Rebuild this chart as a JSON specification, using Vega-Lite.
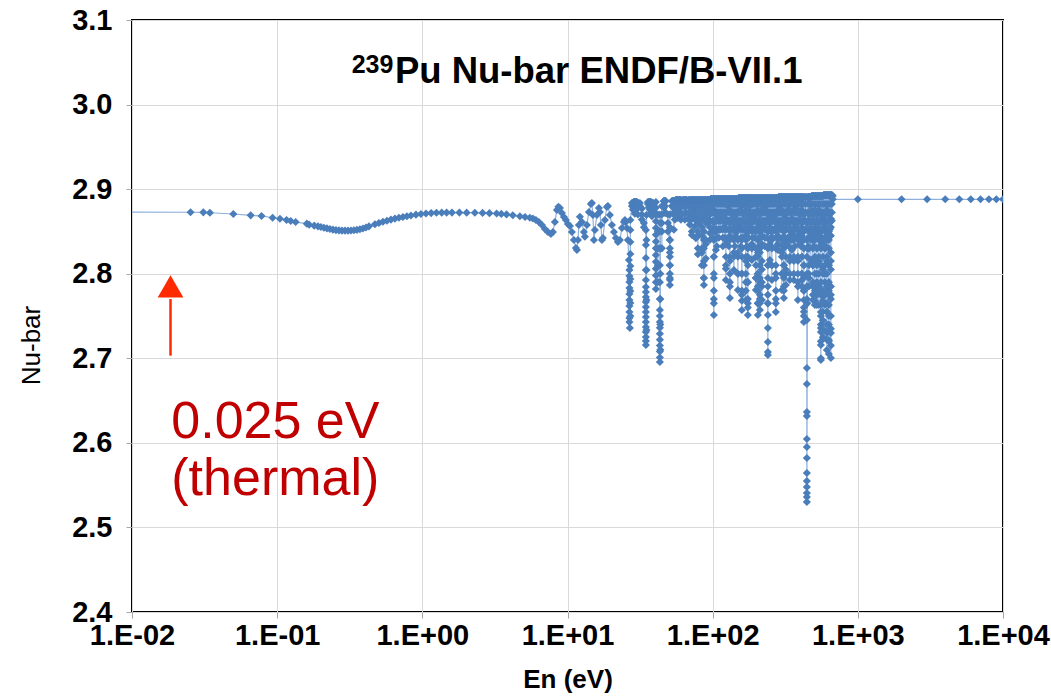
{
"$schema": "https://vega.github.io/schema/vega-lite/v6.json",
"width": 871, "height": 592,
"autosize": {"type": "none"},
"padding": {"left": 132, "top": 20, "right": 48, "bottom": 86},
"background": "white",
"config": {
 "view": {"stroke": "#000000", "strokeWidth": 2},
 "font": "Liberation Sans",
 "axis": {"gridColor": "#D9D9D9", "gridWidth": 1, "domain": false, "tickColor": "#A6A6A6", "tickSize": 6, "labelColor": "#000000", "titleColor": "#000000", "labelFont": "Liberation Sans", "titleFont": "Liberation Sans"},
 "axisY": {"titleFontSize": 26, "titleX": -101, "titleY": 325, "titleAlign": "center", "titleBaseline": "middle", "titleAngle": -90}
},
"datasets": {
 "nu": [
{"E":0.00001,"nu":2.8737},{"E":0.0253,"nu":2.8727},{"E":0.031,"nu":2.8726},{"E":0.0344,"nu":2.8721},{"E":0.0499,"nu":2.8706},{"E":0.0657,"nu":2.869},{"E":0.078,"nu":2.8683},{"E":0.093,"nu":2.8662},{"E":0.1045,"nu":2.865},{"E":0.116,"nu":2.8635},{"E":0.124,"nu":2.8623},{"E":0.134,"nu":2.8611},{"E":0.16,"nu":2.8592},{"E":0.166,"nu":2.858},{"E":0.18,"nu":2.8568},{"E":0.191,"nu":2.856},{"E":0.2002,"nu":2.8553},{"E":0.2101,"nu":2.8544},{"E":0.2203,"nu":2.8536},{"E":0.231,"nu":2.8528},{"E":0.2423,"nu":2.8521},{"E":0.2541,"nu":2.8516},{"E":0.2665,"nu":2.8512},{"E":0.2795,"nu":2.851},{"E":0.293,"nu":2.8509},{"E":0.3073,"nu":2.8509},{"E":0.3223,"nu":2.8511},{"E":0.338,"nu":2.8514},{"E":0.3545,"nu":2.8519},{"E":0.3717,"nu":2.8526},{"E":0.3898,"nu":2.8535},{"E":0.4089,"nu":2.8546},{"E":0.4287,"nu":2.856},{"E":0.4717,"nu":2.8585},{"E":0.5025,"nu":2.86},{"E":0.5355,"nu":2.8614},{"E":0.5705,"nu":2.8627},{"E":0.6077,"nu":2.864},{"E":0.6475,"nu":2.8652},{"E":0.6898,"nu":2.8662},{"E":0.7353,"nu":2.8671},{"E":0.7832,"nu":2.868},{"E":0.8346,"nu":2.8688},{"E":0.9035,"nu":2.8698},{"E":0.978,"nu":2.8706},{"E":1.059,"nu":2.8712},{"E":1.15,"nu":2.8717},{"E":1.25,"nu":2.8721},{"E":1.36,"nu":2.8722},{"E":1.47,"nu":2.8723},{"E":1.6,"nu":2.8723},{"E":1.8,"nu":2.8723},{"E":2.02,"nu":2.8722},{"E":2.3,"nu":2.8721},{"E":2.6,"nu":2.8719},{"E":2.9,"nu":2.8716},{"E":3.25,"nu":2.8712},{"E":3.5,"nu":2.8707},{"E":3.8,"nu":2.8701},{"E":4.2,"nu":2.8692},{"E":4.7,"nu":2.868},{"E":5.1,"nu":2.867},{"E":5.5,"nu":2.8662},
{"E":5.776,"nu":2.8653},{"E":6.058,"nu":2.8635},{"E":6.353,"nu":2.8612},{"E":6.663,"nu":2.8576},{"E":6.989,"nu":2.8529},{"E":7.328,"nu":2.8493},{"E":7.686,"nu":2.847},{"E":7.933,"nu":2.8493},{"E":8.187,"nu":2.8612},{"E":8.453,"nu":2.8753},{"E":8.656,"nu":2.8792},{"E":8.866,"nu":2.8777},{"E":9.151,"nu":2.8718},{"E":9.446,"nu":2.8671},{"E":9.75,"nu":2.8635},{"E":10.06,"nu":2.8588},{"E":10.39,"nu":2.8564},{"E":10.72,"nu":2.8493},{"E":11.07,"nu":2.8399},{"E":11.43,"nu":2.8304},{"E":11.61,"nu":2.828},{"E":11.8,"nu":2.8399},{"E":11.98,"nu":2.8576},{"E":12.17,"nu":2.8674},{"E":12.57,"nu":2.8612},{"E":12.97,"nu":2.8493},{"E":13.18,"nu":2.8438},{"E":13.6,"nu":2.8576},{"E":14.04,"nu":2.873},{"E":14.5,"nu":2.8824},{"E":14.72,"nu":2.8836},{"E":14.96,"nu":2.8694},{"E":15.2,"nu":2.8399},{"E":15.44,"nu":2.8517},{"E":15.94,"nu":2.8694},{"E":16.46,"nu":2.8777},{"E":16.72,"nu":2.873},{"E":16.98,"nu":2.8576},{"E":17.26,"nu":2.8399},{"E":17.53,"nu":2.8422},{"E":18.1,"nu":2.8635},{"E":18.68,"nu":2.8789},{"E":18.98,"nu":2.8801},{"E":19.59,"nu":2.8694},{"E":20.23,"nu":2.8576},{"E":20.88,"nu":2.8493},{"E":21.54,"nu":2.8422},{"E":22.24,"nu":2.8375},{"E":22.96,"nu":2.8399},{"E":23.7,"nu":2.8541},{"E":24.46,"nu":2.8612},{"E":24.86,"nu":2.8635},{"E":25.25,"nu":2.8612},{"E":25.66,"nu":2.8541},{"E":26.06,"nu":2.8399},{"E":26.48,"nu":2.8162},
{"E":26.7,"nu":2.8044},{"E":26.7,"nu":2.7973},{"E":26.7,"nu":2.7902},{"E":26.7,"nu":2.7831},{"E":26.7,"nu":2.776},{"E":26.7,"nu":2.7689},{"E":26.7,"nu":2.7618},{"E":26.7,"nu":2.7547},{"E":26.7,"nu":2.7476},{"E":26.7,"nu":2.7429},{"E":26.9,"nu":2.7358},{"E":27.1,"nu":2.75},{"E":27.1,"nu":2.7654},{"E":27.1,"nu":2.7796},{"E":27.1,"nu":2.7938},{"E":27.1,"nu":2.8091},{"E":27.1,"nu":2.8233},{"E":27.1,"nu":2.8375},{"E":27.1,"nu":2.8517},{"E":27.1,"nu":2.8635},
{"E":27.77,"nu":2.88},{"E":27.77,"nu":2.8836},
{"E":28.2,"nu":2.8836},{"E":28.2,"nu":2.876},{"E":28.2,"nu":2.8836},
{"E":28.67,"nu":2.8848},{"E":28.67,"nu":2.879},{"E":28.67,"nu":2.8848},
{"E":29.1,"nu":2.8848},{"E":29.1,"nu":2.871},{"E":29.1,"nu":2.8848},
{"E":29.59,"nu":2.8848},{"E":29.59,"nu":2.875},{"E":29.59,"nu":2.8848},
{"E":30.05,"nu":2.8848},{"E":30.05,"nu":2.878},{"E":30.05,"nu":2.8848},
{"E":30.54,"nu":2.8836},{"E":30.54,"nu":2.87},{"E":30.54,"nu":2.8836},
{"E":31.52,"nu":2.8836},{"E":31.52,"nu":2.88},
{"E":32.54,"nu":2.877},{"E":32.54,"nu":2.87},{"E":32.54,"nu":2.864},
{"E":33.59,"nu":2.86},{"E":33.59,"nu":2.855},
{"E":34.67,"nu":2.8517},{"E":34.67,"nu":2.834},{"E":34.67,"nu":2.8186},{"E":34.67,"nu":2.8044},{"E":34.67,"nu":2.7926},{"E":34.67,"nu":2.7843},{"E":34.67,"nu":2.7784},{"E":34.67,"nu":2.7725},{"E":34.67,"nu":2.7666},{"E":34.67,"nu":2.7607},{"E":34.67,"nu":2.7547},{"E":34.67,"nu":2.7488},{"E":34.67,"nu":2.7429},{"E":34.67,"nu":2.737},{"E":34.67,"nu":2.7311},{"E":34.67,"nu":2.7252},{"E":34.67,"nu":2.7204},{"E":34.67,"nu":2.7157},
{"E":35.0,"nu":2.7335},{"E":35.0,"nu":2.7689},{"E":35.0,"nu":2.8044},{"E":35.0,"nu":2.8399},{"E":35.0,"nu":2.8694},
{"E":35.79,"nu":2.8824},{"E":35.79,"nu":2.8848},
{"E":36.35,"nu":2.8848},{"E":36.35,"nu":2.8785},{"E":36.35,"nu":2.8848},
{"E":36.94,"nu":2.8848},{"E":36.94,"nu":2.876},{"E":36.94,"nu":2.8848},
{"E":37.5,"nu":2.8848},{"E":37.5,"nu":2.872},{"E":37.5,"nu":2.8848},
{"E":38.13,"nu":2.8836},{"E":38.13,"nu":2.868},{"E":38.13,"nu":2.8836},
{"E":38.75,"nu":2.8836},{"E":38.75,"nu":2.8775},{"E":38.75,"nu":2.8836},
{"E":39.36,"nu":2.8824},{"E":39.36,"nu":2.874},
{"E":40.63,"nu":2.8848},{"E":40.63,"nu":2.878},{"E":40.63,"nu":2.87},{"E":40.63,"nu":2.862},{"E":40.63,"nu":2.854},{"E":40.63,"nu":2.846},{"E":40.63,"nu":2.838},{"E":40.63,"nu":2.83},{"E":40.63,"nu":2.822},{"E":40.63,"nu":2.814},{"E":40.63,"nu":2.806},{"E":40.63,"nu":2.798},{"E":40.63,"nu":2.79},{"E":40.63,"nu":2.782},
{"E":41.94,"nu":2.79},{"E":41.94,"nu":2.81},{"E":41.94,"nu":2.83},{"E":41.94,"nu":2.85},{"E":41.94,"nu":2.87},
{"E":43.29,"nu":2.87},{"E":43.29,"nu":2.85},{"E":43.29,"nu":2.83},{"E":43.29,"nu":2.81},{"E":43.29,"nu":2.79},{"E":43.29,"nu":2.77},{"E":43.29,"nu":2.7571},{"E":43.29,"nu":2.75},{"E":43.29,"nu":2.743},{"E":43.29,"nu":2.736},{"E":43.29,"nu":2.729},{"E":43.29,"nu":2.722},{"E":43.29,"nu":2.715},{"E":43.29,"nu":2.708},{"E":43.29,"nu":2.701},{"E":43.29,"nu":2.6956},
{"E":43.6,"nu":2.71},{"E":43.6,"nu":2.74},{"E":43.6,"nu":2.77},{"E":43.6,"nu":2.8},{"E":43.6,"nu":2.83},{"E":43.6,"nu":2.86},
{"E":44.68,"nu":2.87},{"E":44.68,"nu":2.85},{"E":44.68,"nu":2.83},{"E":44.68,"nu":2.86},{"E":44.68,"nu":2.88},
{"E":46.12,"nu":2.886},{"E":46.12,"nu":2.878},{"E":46.12,"nu":2.886},
{"E":46.85,"nu":2.886},{"E":46.85,"nu":2.88},{"E":46.85,"nu":2.872},{"E":46.85,"nu":2.886},
{"E":47.61,"nu":2.886},{"E":47.61,"nu":2.872},
{"E":49.15,"nu":2.87},{"E":49.15,"nu":2.86},{"E":49.15,"nu":2.85},
{"E":50.73,"nu":2.84},{"E":50.73,"nu":2.83},{"E":50.73,"nu":2.82},{"E":50.73,"nu":2.81},{"E":50.73,"nu":2.8},{"E":50.73,"nu":2.793},{"E":50.73,"nu":2.7867},{"E":50.73,"nu":2.795},{"E":50.73,"nu":2.81},{"E":50.73,"nu":2.825},{"E":50.73,"nu":2.84},{"E":50.73,"nu":2.855},{"E":50.73,"nu":2.87},
{"E":52.36,"nu":2.88},{"E":52.36,"nu":2.886},
{"E":53.2,"nu":2.886},{"E":53.2,"nu":2.879},{"E":53.2,"nu":2.871},{"E":53.2,"nu":2.886},
{"E":54.05,"nu":2.886},{"E":54.05,"nu":2.852},{"E":54.05,"nu":2.886},
{"E":54.9,"nu":2.886},{"E":54.9,"nu":2.88},{"E":54.9,"nu":2.872},{"E":54.9,"nu":2.864},{"E":54.9,"nu":2.886},
{"E":55.8,"nu":2.8872},{"E":55.8,"nu":2.875},{"E":55.8,"nu":2.8872},
{"E":56.7,"nu":2.8872},{"E":56.7,"nu":2.88},{"E":56.7,"nu":2.871},{"E":56.7,"nu":2.8872},
{"E":57.59,"nu":2.8872},{"E":57.59,"nu":2.866},{"E":57.59,"nu":2.8872},
{"E":58.5,"nu":2.8872},{"E":58.5,"nu":2.88},{"E":58.5,"nu":2.872},{"E":58.5,"nu":2.8872},
{"E":59.45,"nu":2.8872},{"E":59.45,"nu":2.878},{"E":59.45,"nu":2.8872},
{"E":60.4,"nu":2.8872},{"E":60.4,"nu":2.88},{"E":60.4,"nu":2.872},{"E":60.4,"nu":2.864},{"E":60.4,"nu":2.8872},
{"E":61.37,"nu":2.886},{"E":61.37,"nu":2.87},{"E":61.37,"nu":2.886},
{"E":62.4,"nu":2.8872},{"E":62.4,"nu":2.88},{"E":62.4,"nu":2.8872},
{"E":63.35,"nu":2.8872},{"E":63.35,"nu":2.88},{"E":63.35,"nu":2.8872},
{"E":64.4,"nu":2.8872},{"E":64.4,"nu":2.88},{"E":64.4,"nu":2.872},{"E":64.4,"nu":2.864},{"E":64.4,"nu":2.8872},
{"E":65.38,"nu":2.8872},{"E":65.38,"nu":2.872},{"E":65.38,"nu":2.8872},
{"E":66.4,"nu":2.8872},{"E":66.4,"nu":2.88},{"E":66.4,"nu":2.8872},
{"E":67.49,"nu":2.886},{"E":67.49,"nu":2.865},{"E":67.49,"nu":2.886},
{"E":68.6,"nu":2.8872},{"E":68.6,"nu":2.88},{"E":68.6,"nu":2.872},{"E":68.6,"nu":2.8872},
{"E":69.66,"nu":2.8872},{"E":69.66,"nu":2.858},{"E":69.66,"nu":2.886},
{"E":70.8,"nu":2.8872},{"E":70.8,"nu":2.88},{"E":70.8,"nu":2.872},{"E":70.8,"nu":2.864},{"E":70.8,"nu":2.8872},
{"E":71.9,"nu":2.8872},{"E":71.9,"nu":2.868},{"E":71.9,"nu":2.85},{"E":71.9,"nu":2.8458},{"E":71.9,"nu":2.87},{"E":71.9,"nu":2.8872},
{"E":73.1,"nu":2.8872},{"E":73.1,"nu":2.88},{"E":73.1,"nu":2.8872},
{"E":74.22,"nu":2.8872},{"E":74.22,"nu":2.875},{"E":74.22,"nu":2.8872},
{"E":75.4,"nu":2.8872},{"E":75.4,"nu":2.88},{"E":75.4,"nu":2.872},{"E":75.4,"nu":2.864},{"E":75.4,"nu":2.856},{"E":75.4,"nu":2.8872},
{"E":76.62,"nu":2.8872},{"E":76.62,"nu":2.864},{"E":76.62,"nu":2.842},{"E":76.62,"nu":2.864},{"E":76.62,"nu":2.8872},
{"E":77.9,"nu":2.8872},{"E":77.9,"nu":2.88},{"E":77.9,"nu":2.872},{"E":77.9,"nu":2.8872},
{"E":79.09,"nu":2.8872},{"E":79.09,"nu":2.87},{"E":79.09,"nu":2.85},{"E":79.09,"nu":2.83},{"E":79.09,"nu":2.823},{"E":79.09,"nu":2.845},{"E":79.09,"nu":2.87},{"E":79.09,"nu":2.8872},
{"E":80.4,"nu":2.8872},{"E":80.4,"nu":2.88},{"E":80.4,"nu":2.86},{"E":80.4,"nu":2.8872},
{"E":81.63,"nu":2.8872},{"E":81.63,"nu":2.878},{"E":81.63,"nu":2.8872},
{"E":83.0,"nu":2.8872},{"E":83.0,"nu":2.88},{"E":83.0,"nu":2.872},{"E":83.0,"nu":2.864},{"E":83.0,"nu":2.8872},
{"E":84.27,"nu":2.8872},{"E":84.27,"nu":2.865},{"E":84.27,"nu":2.845},{"E":84.27,"nu":2.825},{"E":84.27,"nu":2.81},{"E":84.27,"nu":2.83},{"E":84.27,"nu":2.855},{"E":84.27,"nu":2.8872},
{"E":85.6,"nu":2.8872},{"E":85.6,"nu":2.88},{"E":85.6,"nu":2.872},{"E":85.6,"nu":2.8872},
{"E":86.98,"nu":2.8872},{"E":86.98,"nu":2.87},{"E":86.98,"nu":2.85},{"E":86.98,"nu":2.83},{"E":86.98,"nu":2.81},{"E":86.98,"nu":2.795},{"E":86.98,"nu":2.7867},{"E":86.98,"nu":2.795},{"E":86.98,"nu":2.815},{"E":86.98,"nu":2.84},{"E":86.98,"nu":2.865},{"E":86.98,"nu":2.8872},
{"E":88.4,"nu":2.8872},{"E":88.4,"nu":2.88},{"E":88.4,"nu":2.872},{"E":88.4,"nu":2.864},{"E":88.4,"nu":2.8872},
{"E":89.79,"nu":2.8872},{"E":89.79,"nu":2.86},{"E":89.79,"nu":2.835},{"E":89.79,"nu":2.818},{"E":89.79,"nu":2.84},{"E":89.79,"nu":2.865},{"E":89.79,"nu":2.8872},
{"E":91.2,"nu":2.8872},{"E":91.2,"nu":2.88},{"E":91.2,"nu":2.872},{"E":91.2,"nu":2.8872},
{"E":92.68,"nu":2.8872},{"E":92.68,"nu":2.875},{"E":92.68,"nu":2.86},{"E":92.68,"nu":2.875},{"E":92.68,"nu":2.8872},
{"E":94.2,"nu":2.8872},{"E":94.2,"nu":2.88},{"E":94.2,"nu":2.872},{"E":94.2,"nu":2.864},{"E":94.2,"nu":2.8872},
{"E":95.66,"nu":2.8872},{"E":95.66,"nu":2.87},{"E":95.66,"nu":2.848},{"E":95.66,"nu":2.8399},{"E":95.66,"nu":2.855},{"E":95.66,"nu":2.8872},
{"E":97.2,"nu":2.8884},{"E":97.2,"nu":2.88},{"E":97.2,"nu":2.872},{"E":97.2,"nu":2.8884},
{"E":98.74,"nu":2.8884},{"E":98.74,"nu":2.88},{"E":98.74,"nu":2.8884},
{"E":100.3,"nu":2.8884},{"E":100.3,"nu":2.8825},{"E":100.3,"nu":2.8725},{"E":100.3,"nu":2.8625},{"E":100.3,"nu":2.8525},{"E":100.3,"nu":2.8425},{"E":100.3,"nu":2.8884},
{"E":101.9,"nu":2.8884},{"E":101.9,"nu":2.86},{"E":101.9,"nu":2.84},{"E":101.9,"nu":2.82},{"E":101.9,"nu":2.8},{"E":101.9,"nu":2.78},{"E":101.9,"nu":2.765},{"E":101.9,"nu":2.7512},{"E":101.9,"nu":2.77},{"E":101.9,"nu":2.795},{"E":101.9,"nu":2.82},{"E":101.9,"nu":2.85},{"E":101.9,"nu":2.875},{"E":101.9,"nu":2.8884},
{"E":103.5,"nu":2.8884},{"E":103.5,"nu":2.8825},{"E":103.5,"nu":2.8725},{"E":103.5,"nu":2.8625},{"E":103.5,"nu":2.8525},{"E":103.5,"nu":2.8884},
{"E":105.2,"nu":2.8884},{"E":105.2,"nu":2.87},{"E":105.2,"nu":2.85},{"E":105.2,"nu":2.828},{"E":105.2,"nu":2.85},{"E":105.2,"nu":2.87},{"E":105.2,"nu":2.8884},
{"E":106.9,"nu":2.8884},{"E":106.9,"nu":2.8825},{"E":106.9,"nu":2.8725},{"E":106.9,"nu":2.8625},{"E":106.9,"nu":2.8525},{"E":106.9,"nu":2.8425},{"E":106.9,"nu":2.8325},{"E":106.9,"nu":2.8884},
{"E":108.6,"nu":2.8884},{"E":108.6,"nu":2.865},{"E":108.6,"nu":2.8884},
{"E":110.3,"nu":2.8884},{"E":110.3,"nu":2.8825},{"E":110.3,"nu":2.8725},{"E":110.3,"nu":2.8625},{"E":110.3,"nu":2.8525},{"E":110.3,"nu":2.8425},{"E":110.3,"nu":2.8884},
{"E":112.1,"nu":2.8884},{"E":112.1,"nu":2.868},{"E":112.1,"nu":2.852},{"E":112.1,"nu":2.87},{"E":112.1,"nu":2.8884},
{"E":113.9,"nu":2.8884},{"E":113.9,"nu":2.8825},{"E":113.9,"nu":2.8725},{"E":113.9,"nu":2.8625},{"E":113.9,"nu":2.8525},{"E":113.9,"nu":2.8884},
{"E":115.7,"nu":2.8884},{"E":115.7,"nu":2.87},{"E":115.7,"nu":2.8884},
{"E":117.5,"nu":2.8884},{"E":117.5,"nu":2.8825},{"E":117.5,"nu":2.8725},{"E":117.5,"nu":2.8625},{"E":117.5,"nu":2.8525},{"E":117.5,"nu":2.8425},{"E":117.5,"nu":2.8325},{"E":117.5,"nu":2.8884},
{"E":119.4,"nu":2.8884},{"E":119.4,"nu":2.87},{"E":119.4,"nu":2.855},{"E":119.4,"nu":2.87},{"E":119.4,"nu":2.8884},
{"E":121.3,"nu":2.8884},{"E":121.3,"nu":2.8825},{"E":121.3,"nu":2.8725},{"E":121.3,"nu":2.8625},{"E":121.3,"nu":2.8525},{"E":121.3,"nu":2.8425},{"E":121.3,"nu":2.8884},
{"E":123.3,"nu":2.8884},{"E":123.3,"nu":2.86},{"E":123.3,"nu":2.84},{"E":123.3,"nu":2.82},{"E":123.3,"nu":2.806},{"E":123.3,"nu":2.7926},{"E":123.3,"nu":2.81},{"E":123.3,"nu":2.835},{"E":123.3,"nu":2.865},{"E":123.3,"nu":2.8884},
{"E":125.3,"nu":2.8884},{"E":125.3,"nu":2.8825},{"E":125.3,"nu":2.8725},{"E":125.3,"nu":2.8625},{"E":125.3,"nu":2.8525},{"E":125.3,"nu":2.8884},
{"E":127.3,"nu":2.8884},{"E":127.3,"nu":2.88},{"E":127.3,"nu":2.8884},
{"E":129.3,"nu":2.8884},{"E":129.3,"nu":2.8825},{"E":129.3,"nu":2.8725},{"E":129.3,"nu":2.8625},{"E":129.3,"nu":2.8525},{"E":129.3,"nu":2.8425},{"E":129.3,"nu":2.8325},{"E":129.3,"nu":2.8884},
{"E":131.4,"nu":2.8884},{"E":131.4,"nu":2.86},{"E":131.4,"nu":2.84},{"E":131.4,"nu":2.82},{"E":131.4,"nu":2.8},{"E":131.4,"nu":2.785},{"E":131.4,"nu":2.7713},{"E":131.4,"nu":2.79},{"E":131.4,"nu":2.815},{"E":131.4,"nu":2.845},{"E":131.4,"nu":2.875},{"E":131.4,"nu":2.8884},
{"E":133.5,"nu":2.8884},{"E":133.5,"nu":2.8825},{"E":133.5,"nu":2.8725},{"E":133.5,"nu":2.8625},{"E":133.5,"nu":2.8525},{"E":133.5,"nu":2.8425},{"E":133.5,"nu":2.8884},
{"E":135.6,"nu":2.8884},{"E":135.6,"nu":2.865},{"E":135.6,"nu":2.8884},
{"E":137.8,"nu":2.8884},{"E":137.8,"nu":2.8825},{"E":137.8,"nu":2.8725},{"E":137.8,"nu":2.8625},{"E":137.8,"nu":2.8525},{"E":137.8,"nu":2.8884},
{"E":140.0,"nu":2.8884},{"E":140.0,"nu":2.86},{"E":140.0,"nu":2.84},{"E":140.0,"nu":2.82},{"E":140.0,"nu":2.8044},{"E":140.0,"nu":2.825},{"E":140.0,"nu":2.855},{"E":140.0,"nu":2.8884},
{"E":142.2,"nu":2.8884},{"E":142.2,"nu":2.8825},{"E":142.2,"nu":2.8725},{"E":142.2,"nu":2.8625},{"E":142.2,"nu":2.8525},{"E":142.2,"nu":2.8425},{"E":142.2,"nu":2.8325},{"E":142.2,"nu":2.8884},
{"E":144.5,"nu":2.8884},{"E":144.5,"nu":2.87},{"E":144.5,"nu":2.848},{"E":144.5,"nu":2.87},{"E":144.5,"nu":2.8884},
{"E":146.8,"nu":2.8884},{"E":146.8,"nu":2.8825},{"E":146.8,"nu":2.8725},{"E":146.8,"nu":2.8625},{"E":146.8,"nu":2.8525},{"E":146.8,"nu":2.8425},{"E":146.8,"nu":2.8884},
{"E":149.2,"nu":2.8884},{"E":149.2,"nu":2.86},{"E":149.2,"nu":2.84},{"E":149.2,"nu":2.82},{"E":149.2,"nu":2.8},{"E":149.2,"nu":2.7807},{"E":149.2,"nu":2.8},{"E":149.2,"nu":2.825},{"E":149.2,"nu":2.855},{"E":149.2,"nu":2.8884},
{"E":151.5,"nu":2.8895},{"E":151.5,"nu":2.8825},{"E":151.5,"nu":2.8725},{"E":151.5,"nu":2.8625},{"E":151.5,"nu":2.8525},{"E":151.5,"nu":2.8895},
{"E":153.9,"nu":2.8895},{"E":153.9,"nu":2.875},{"E":153.9,"nu":2.86},{"E":153.9,"nu":2.875},{"E":153.9,"nu":2.8895},
{"E":156.4,"nu":2.8895},{"E":156.4,"nu":2.8825},{"E":156.4,"nu":2.8725},{"E":156.4,"nu":2.8625},{"E":156.4,"nu":2.8525},{"E":156.4,"nu":2.8425},{"E":156.4,"nu":2.8325},{"E":156.4,"nu":2.8895},
{"E":158.9,"nu":2.8895},{"E":158.9,"nu":2.88},{"E":158.9,"nu":2.86},{"E":158.9,"nu":2.84},{"E":158.9,"nu":2.82},{"E":158.9,"nu":2.8},{"E":158.9,"nu":2.78},{"E":158.9,"nu":2.768},{"E":158.9,"nu":2.7571},{"E":158.9,"nu":2.775},{"E":158.9,"nu":2.8},{"E":158.9,"nu":2.83},{"E":158.9,"nu":2.86},{"E":158.9,"nu":2.8895},
{"E":161.4,"nu":2.8895},{"E":161.4,"nu":2.8825},{"E":161.4,"nu":2.8725},{"E":161.4,"nu":2.8625},{"E":161.4,"nu":2.8525},{"E":161.4,"nu":2.8425},{"E":161.4,"nu":2.8895},
{"E":164.0,"nu":2.8895},{"E":164.0,"nu":2.87},{"E":164.0,"nu":2.852},{"E":164.0,"nu":2.87},{"E":164.0,"nu":2.8895},
{"E":166.6,"nu":2.8895},{"E":166.6,"nu":2.8825},{"E":166.6,"nu":2.8725},{"E":166.6,"nu":2.8625},{"E":166.6,"nu":2.8525},{"E":166.6,"nu":2.8895},
{"E":169.3,"nu":2.8895},{"E":169.3,"nu":2.86},{"E":169.3,"nu":2.84},{"E":169.3,"nu":2.82},{"E":169.3,"nu":2.8},{"E":169.3,"nu":2.78},{"E":169.3,"nu":2.7689},{"E":169.3,"nu":2.79},{"E":169.3,"nu":2.815},{"E":169.3,"nu":2.845},{"E":169.3,"nu":2.875},{"E":169.3,"nu":2.8895},
{"E":172.0,"nu":2.8895},{"E":172.0,"nu":2.8825},{"E":172.0,"nu":2.8725},{"E":172.0,"nu":2.8625},{"E":172.0,"nu":2.8525},{"E":172.0,"nu":2.8425},{"E":172.0,"nu":2.8325},{"E":172.0,"nu":2.8895},
{"E":174.7,"nu":2.8895},{"E":174.7,"nu":2.87},{"E":174.7,"nu":2.85},{"E":174.7,"nu":2.83},{"E":174.7,"nu":2.81},{"E":174.7,"nu":2.79},{"E":174.7,"nu":2.77},{"E":174.7,"nu":2.76},{"E":174.7,"nu":2.7512},{"E":174.7,"nu":2.765},{"E":174.7,"nu":2.79},{"E":174.7,"nu":2.82},{"E":174.7,"nu":2.85},{"E":174.7,"nu":2.8895},
{"E":177.5,"nu":2.8895},{"E":177.5,"nu":2.8825},{"E":177.5,"nu":2.8725},{"E":177.5,"nu":2.8625},{"E":177.5,"nu":2.8525},{"E":177.5,"nu":2.8425},{"E":177.5,"nu":2.8895},
{"E":180.4,"nu":2.8895},{"E":180.4,"nu":2.87},{"E":180.4,"nu":2.855},{"E":180.4,"nu":2.88},{"E":180.4,"nu":2.8895},
{"E":183.3,"nu":2.8895},{"E":183.3,"nu":2.8825},{"E":183.3,"nu":2.8725},{"E":183.3,"nu":2.8625},{"E":183.3,"nu":2.8525},{"E":183.3,"nu":2.8895},
{"E":186.2,"nu":2.8895},{"E":186.2,"nu":2.87},{"E":186.2,"nu":2.85},{"E":186.2,"nu":2.83},{"E":186.2,"nu":2.8162},{"E":186.2,"nu":2.835},{"E":186.2,"nu":2.86},{"E":186.2,"nu":2.8895},
{"E":189.2,"nu":2.8895},{"E":189.2,"nu":2.8825},{"E":189.2,"nu":2.8725},{"E":189.2,"nu":2.8625},{"E":189.2,"nu":2.8525},{"E":189.2,"nu":2.8425},{"E":189.2,"nu":2.8325},{"E":189.2,"nu":2.8895},
{"E":192.2,"nu":2.8895},{"E":192.2,"nu":2.865},{"E":192.2,"nu":2.8895},
{"E":195.3,"nu":2.8895},{"E":195.3,"nu":2.8825},{"E":195.3,"nu":2.8725},{"E":195.3,"nu":2.8625},{"E":195.3,"nu":2.8525},{"E":195.3,"nu":2.8425},{"E":195.3,"nu":2.8895},
{"E":198.4,"nu":2.8895},{"E":198.4,"nu":2.87},{"E":198.4,"nu":2.85},{"E":198.4,"nu":2.83},{"E":198.4,"nu":2.81},{"E":198.4,"nu":2.795},{"E":198.4,"nu":2.7807},{"E":198.4,"nu":2.795},{"E":198.4,"nu":2.82},{"E":198.4,"nu":2.85},{"E":198.4,"nu":2.8895},
{"E":201.6,"nu":2.8895},{"E":201.6,"nu":2.8825},{"E":201.6,"nu":2.8725},{"E":201.6,"nu":2.8625},{"E":201.6,"nu":2.8525},{"E":201.6,"nu":2.8895},
{"E":204.8,"nu":2.8895},{"E":204.8,"nu":2.86},{"E":204.8,"nu":2.84},{"E":204.8,"nu":2.82},{"E":204.8,"nu":2.8},{"E":204.8,"nu":2.785},{"E":204.8,"nu":2.765},{"E":204.8,"nu":2.7512},{"E":204.8,"nu":2.765},{"E":204.8,"nu":2.78},{"E":204.8,"nu":2.8},{"E":204.8,"nu":2.825},{"E":204.8,"nu":2.855},{"E":204.8,"nu":2.875},{"E":204.8,"nu":2.8895},
{"E":208.1,"nu":2.8895},{"E":208.1,"nu":2.8825},{"E":208.1,"nu":2.8725},{"E":208.1,"nu":2.8625},{"E":208.1,"nu":2.8525},{"E":208.1,"nu":2.8425},{"E":208.1,"nu":2.8325},{"E":208.1,"nu":2.8895},
{"E":211.4,"nu":2.8895},{"E":211.4,"nu":2.87},{"E":211.4,"nu":2.85},{"E":211.4,"nu":2.83},{"E":211.4,"nu":2.81},{"E":211.4,"nu":2.79},{"E":211.4,"nu":2.775},{"E":211.4,"nu":2.765},{"E":211.4,"nu":2.7571},{"E":211.4,"nu":2.77},{"E":211.4,"nu":2.795},{"E":211.4,"nu":2.825},{"E":211.4,"nu":2.855},{"E":211.4,"nu":2.8895},
{"E":214.8,"nu":2.8895},{"E":214.8,"nu":2.8825},{"E":214.8,"nu":2.8725},{"E":214.8,"nu":2.8625},{"E":214.8,"nu":2.8525},{"E":214.8,"nu":2.8425},{"E":214.8,"nu":2.8895},
{"E":218.2,"nu":2.8895},{"E":218.2,"nu":2.875},{"E":218.2,"nu":2.855},{"E":218.2,"nu":2.835},{"E":218.2,"nu":2.805},{"E":218.2,"nu":2.785},{"E":218.2,"nu":2.7689},{"E":218.2,"nu":2.79},{"E":218.2,"nu":2.815},{"E":218.2,"nu":2.845},{"E":218.2,"nu":2.86},{"E":218.2,"nu":2.8895},
{"E":221.7,"nu":2.8895},{"E":221.7,"nu":2.8825},{"E":221.7,"nu":2.8725},{"E":221.7,"nu":2.8625},{"E":221.7,"nu":2.8525},{"E":221.7,"nu":2.8895},
{"E":225.2,"nu":2.8895},{"E":225.2,"nu":2.875},{"E":225.2,"nu":2.86},{"E":225.2,"nu":2.875},{"E":225.2,"nu":2.8895},
{"E":228.8,"nu":2.8895},{"E":228.8,"nu":2.8825},{"E":228.8,"nu":2.8725},{"E":228.8,"nu":2.8625},{"E":228.8,"nu":2.8525},{"E":228.8,"nu":2.8425},{"E":228.8,"nu":2.8325},{"E":228.8,"nu":2.8895},
{"E":232.5,"nu":2.8895},{"E":232.5,"nu":2.88},{"E":232.5,"nu":2.86},{"E":232.5,"nu":2.875},{"E":232.5,"nu":2.8895},
{"E":236.2,"nu":2.8895},{"E":236.2,"nu":2.8825},{"E":236.2,"nu":2.8725},{"E":236.2,"nu":2.8625},{"E":236.2,"nu":2.8525},{"E":236.2,"nu":2.8425},{"E":236.2,"nu":2.8895},
{"E":240.0,"nu":2.8895},{"E":240.0,"nu":2.87},{"E":240.0,"nu":2.85},{"E":240.0,"nu":2.83},{"E":240.0,"nu":2.81},{"E":240.0,"nu":2.795},{"E":240.0,"nu":2.785},{"E":240.0,"nu":2.775},{"E":240.0,"nu":2.765},{"E":240.0,"nu":2.7512},{"E":240.0,"nu":2.7358},{"E":240.0,"nu":2.7193},{"E":240.0,"nu":2.7074},{"E":240.0,"nu":2.7039},{"E":240.0,"nu":2.765},{"E":240.0,"nu":2.81},{"E":240.0,"nu":2.85},{"E":240.0,"nu":2.8895},
{"E":243.8,"nu":2.8895},{"E":243.8,"nu":2.8825},{"E":243.8,"nu":2.8725},{"E":243.8,"nu":2.8625},{"E":243.8,"nu":2.8525},{"E":243.8,"nu":2.8895},
{"E":247.7,"nu":2.8895},{"E":247.7,"nu":2.86},{"E":247.7,"nu":2.84},{"E":247.7,"nu":2.8162},{"E":247.7,"nu":2.835},{"E":247.7,"nu":2.865},{"E":247.7,"nu":2.8895},
{"E":251.7,"nu":2.8895},{"E":251.7,"nu":2.8825},{"E":251.7,"nu":2.8725},{"E":251.7,"nu":2.8625},{"E":251.7,"nu":2.8525},{"E":251.7,"nu":2.8425},{"E":251.7,"nu":2.8325},{"E":251.7,"nu":2.8895},
{"E":255.7,"nu":2.8895},{"E":255.7,"nu":2.87},{"E":255.7,"nu":2.85},{"E":255.7,"nu":2.83},{"E":255.7,"nu":2.81},{"E":255.7,"nu":2.7926},{"E":255.7,"nu":2.81},{"E":255.7,"nu":2.84},{"E":255.7,"nu":2.87},{"E":255.7,"nu":2.8895},
{"E":259.8,"nu":2.8895},{"E":259.8,"nu":2.8825},{"E":259.8,"nu":2.8725},{"E":259.8,"nu":2.8625},{"E":259.8,"nu":2.8525},{"E":259.8,"nu":2.8425},{"E":259.8,"nu":2.8895},
{"E":263.9,"nu":2.8895},{"E":263.9,"nu":2.865},{"E":263.9,"nu":2.8895},
{"E":268.1,"nu":2.8895},{"E":268.1,"nu":2.8825},{"E":268.1,"nu":2.8725},{"E":268.1,"nu":2.8625},{"E":268.1,"nu":2.8525},{"E":268.1,"nu":2.8895},
{"E":272.4,"nu":2.8895},{"E":272.4,"nu":2.87},{"E":272.4,"nu":2.85},{"E":272.4,"nu":2.83},{"E":272.4,"nu":2.81},{"E":272.4,"nu":2.795},{"E":272.4,"nu":2.78},{"E":272.4,"nu":2.765},{"E":272.4,"nu":2.7547},{"E":272.4,"nu":2.77},{"E":272.4,"nu":2.8},{"E":272.4,"nu":2.83},{"E":272.4,"nu":2.86},{"E":272.4,"nu":2.8895},
{"E":276.8,"nu":2.8895},{"E":276.8,"nu":2.8825},{"E":276.8,"nu":2.8725},{"E":276.8,"nu":2.8625},{"E":276.8,"nu":2.8525},{"E":276.8,"nu":2.8425},{"E":276.8,"nu":2.8325},{"E":276.8,"nu":2.8895},
{"E":281.2,"nu":2.8895},{"E":281.2,"nu":2.875},{"E":281.2,"nu":2.855},{"E":281.2,"nu":2.835},{"E":281.2,"nu":2.828},{"E":281.2,"nu":2.845},{"E":281.2,"nu":2.8895},
{"E":285.7,"nu":2.8907},{"E":285.7,"nu":2.8825},{"E":285.7,"nu":2.8725},{"E":285.7,"nu":2.8625},{"E":285.7,"nu":2.8525},{"E":285.7,"nu":2.8425},{"E":285.7,"nu":2.8907},
{"E":290.3,"nu":2.8907},{"E":290.3,"nu":2.875},{"E":290.3,"nu":2.86},{"E":290.3,"nu":2.875},{"E":290.3,"nu":2.8907},
{"E":295.0,"nu":2.8907},{"E":295.0,"nu":2.8825},{"E":295.0,"nu":2.8725},{"E":295.0,"nu":2.8625},{"E":295.0,"nu":2.8525},{"E":295.0,"nu":2.8907},
{"E":299.6,"nu":2.8907},{"E":299.6,"nu":2.86},{"E":299.6,"nu":2.84},{"E":299.6,"nu":2.82},{"E":299.6,"nu":2.8},{"E":299.6,"nu":2.7807},{"E":299.6,"nu":2.8},{"E":299.6,"nu":2.825},{"E":299.6,"nu":2.855},{"E":299.6,"nu":2.875},{"E":299.6,"nu":2.8907},
{"E":304.4,"nu":2.8907},{"E":304.4,"nu":2.8825},{"E":304.4,"nu":2.8725},{"E":304.4,"nu":2.8625},{"E":304.4,"nu":2.8525},{"E":304.4,"nu":2.8425},{"E":304.4,"nu":2.8325},{"E":304.4,"nu":2.8907},
{"E":309.3,"nu":2.8907},{"E":309.3,"nu":2.87},{"E":309.3,"nu":2.85},{"E":309.3,"nu":2.83},{"E":309.3,"nu":2.81},{"E":309.3,"nu":2.795},{"E":309.3,"nu":2.78},{"E":309.3,"nu":2.7713},{"E":309.3,"nu":2.785},{"E":309.3,"nu":2.81},{"E":309.3,"nu":2.84},{"E":309.3,"nu":2.87},{"E":309.3,"nu":2.8907},
{"E":314.3,"nu":2.8907},{"E":314.3,"nu":2.8825},{"E":314.3,"nu":2.8725},{"E":314.3,"nu":2.8625},{"E":314.3,"nu":2.8525},{"E":314.3,"nu":2.8425},{"E":314.3,"nu":2.8907},
{"E":319.3,"nu":2.8907},{"E":319.3,"nu":2.86},{"E":319.3,"nu":2.84},{"E":319.3,"nu":2.82},{"E":319.3,"nu":2.8},{"E":319.3,"nu":2.7867},{"E":319.3,"nu":2.805},{"E":319.3,"nu":2.835},{"E":319.3,"nu":2.865},{"E":319.3,"nu":2.8907},
{"E":324.4,"nu":2.8907},{"E":324.4,"nu":2.8825},{"E":324.4,"nu":2.8725},{"E":324.4,"nu":2.8625},{"E":324.4,"nu":2.8525},{"E":324.4,"nu":2.8907},
{"E":329.6,"nu":2.8907},{"E":329.6,"nu":2.875},{"E":329.6,"nu":2.86},{"E":329.6,"nu":2.875},{"E":329.6,"nu":2.8907},
{"E":334.9,"nu":2.8907},{"E":334.9,"nu":2.8825},{"E":334.9,"nu":2.8725},{"E":334.9,"nu":2.8625},{"E":334.9,"nu":2.8525},{"E":334.9,"nu":2.8425},{"E":334.9,"nu":2.8325},{"E":334.9,"nu":2.8907},
{"E":340.2,"nu":2.8907},{"E":340.2,"nu":2.86},{"E":340.2,"nu":2.84},{"E":340.2,"nu":2.82},{"E":340.2,"nu":2.8},{"E":340.2,"nu":2.7926},{"E":340.2,"nu":2.815},{"E":340.2,"nu":2.845},{"E":340.2,"nu":2.875},{"E":340.2,"nu":2.8907},
{"E":345.7,"nu":2.8907},{"E":345.7,"nu":2.8825},{"E":345.7,"nu":2.8725},{"E":345.7,"nu":2.8625},{"E":345.7,"nu":2.8525},{"E":345.7,"nu":2.8425},{"E":345.7,"nu":2.8907},
{"E":351.2,"nu":2.8907},{"E":351.2,"nu":2.865},{"E":351.2,"nu":2.84},{"E":351.2,"nu":2.828},{"E":351.2,"nu":2.85},{"E":351.2,"nu":2.8907},
{"E":356.8,"nu":2.8907},{"E":356.8,"nu":2.8825},{"E":356.8,"nu":2.8725},{"E":356.8,"nu":2.8625},{"E":356.8,"nu":2.8525},{"E":356.8,"nu":2.8907},
{"E":362.5,"nu":2.8907},{"E":362.5,"nu":2.86},{"E":362.5,"nu":2.84},{"E":362.5,"nu":2.82},{"E":362.5,"nu":2.8},{"E":362.5,"nu":2.7926},{"E":362.5,"nu":2.815},{"E":362.5,"nu":2.845},{"E":362.5,"nu":2.875},{"E":362.5,"nu":2.8907},
{"E":368.3,"nu":2.8907},{"E":368.3,"nu":2.8825},{"E":368.3,"nu":2.8725},{"E":368.3,"nu":2.8625},{"E":368.3,"nu":2.8525},{"E":368.3,"nu":2.8425},{"E":368.3,"nu":2.8325},{"E":368.3,"nu":2.8907},
{"E":374.2,"nu":2.8907},{"E":374.2,"nu":2.875},{"E":374.2,"nu":2.86},{"E":374.2,"nu":2.875},{"E":374.2,"nu":2.8907},
{"E":380.2,"nu":2.8907},{"E":380.2,"nu":2.8825},{"E":380.2,"nu":2.8725},{"E":380.2,"nu":2.8625},{"E":380.2,"nu":2.8525},{"E":380.2,"nu":2.8425},{"E":380.2,"nu":2.8907},
{"E":386.3,"nu":2.8907},{"E":386.3,"nu":2.86},{"E":386.3,"nu":2.84},{"E":386.3,"nu":2.82},{"E":386.3,"nu":2.8},{"E":386.3,"nu":2.785},{"E":386.3,"nu":2.7689},{"E":386.3,"nu":2.79},{"E":386.3,"nu":2.815},{"E":386.3,"nu":2.845},{"E":386.3,"nu":2.875},{"E":386.3,"nu":2.8907},
{"E":392.5,"nu":2.8907},{"E":392.5,"nu":2.8825},{"E":392.5,"nu":2.8725},{"E":392.5,"nu":2.8625},{"E":392.5,"nu":2.8525},{"E":392.5,"nu":2.8907},
{"E":398.7,"nu":2.8907},{"E":398.7,"nu":2.87},{"E":398.7,"nu":2.85},{"E":398.7,"nu":2.835},{"E":398.7,"nu":2.85},{"E":398.7,"nu":2.8907},
{"E":405.1,"nu":2.8907},{"E":405.1,"nu":2.8825},{"E":405.1,"nu":2.8725},{"E":405.1,"nu":2.8625},{"E":405.1,"nu":2.8525},{"E":405.1,"nu":2.8425},{"E":405.1,"nu":2.8325},{"E":405.1,"nu":2.8907},
{"E":411.6,"nu":2.8907},{"E":411.6,"nu":2.86},{"E":411.6,"nu":2.84},{"E":411.6,"nu":2.82},{"E":411.6,"nu":2.8},{"E":411.6,"nu":2.7926},{"E":411.6,"nu":2.785},{"E":411.6,"nu":2.8},{"E":411.6,"nu":2.82},{"E":411.6,"nu":2.845},{"E":411.6,"nu":2.875},{"E":411.6,"nu":2.8907},
{"E":418.2,"nu":2.8907},{"E":418.2,"nu":2.8825},{"E":418.2,"nu":2.8725},{"E":418.2,"nu":2.8625},{"E":418.2,"nu":2.8525},{"E":418.2,"nu":2.8425},{"E":418.2,"nu":2.8907},
{"E":424.9,"nu":2.8907},{"E":424.9,"nu":2.87},{"E":424.9,"nu":2.85},{"E":424.9,"nu":2.83},{"E":424.9,"nu":2.81},{"E":424.9,"nu":2.795},{"E":424.9,"nu":2.78},{"E":424.9,"nu":2.7689},{"E":424.9,"nu":2.76},{"E":424.9,"nu":2.75},{"E":424.9,"nu":2.7429},{"E":424.9,"nu":2.755},{"E":424.9,"nu":2.78},{"E":424.9,"nu":2.81},{"E":424.9,"nu":2.84},{"E":424.9,"nu":2.8907},
{"E":435.0,"nu":2.8907},{"E":435.0,"nu":2.8825},{"E":435.0,"nu":2.8725},{"E":435.0,"nu":2.8625},{"E":435.0,"nu":2.8525},{"E":435.0,"nu":2.8907},
{"E":445.6,"nu":2.8907},{"E":445.6,"nu":2.86},{"E":445.6,"nu":2.84},{"E":445.6,"nu":2.82},{"E":445.6,"nu":2.8},{"E":445.6,"nu":2.785},{"E":445.6,"nu":2.77},{"E":445.6,"nu":2.7453},{"E":445.6,"nu":2.6885},{"E":445.6,"nu":2.6696},{"E":445.6,"nu":2.6365},{"E":445.6,"nu":2.6318},{"E":445.6,"nu":2.6046},{"E":445.6,"nu":2.5951},{"E":445.6,"nu":2.5821},{"E":445.6,"nu":2.5644},{"E":445.6,"nu":2.5549},{"E":445.6,"nu":2.5478},{"E":445.6,"nu":2.5407},{"E":445.6,"nu":2.536},{"E":445.6,"nu":2.5301},
{"E":449,"nu":2.765},{"E":449,"nu":2.83},{"E":452.7,"nu":2.8907},
{"E":456.0,"nu":2.8907},{"E":456.0,"nu":2.8825},{"E":456.0,"nu":2.8725},{"E":456.0,"nu":2.8625},{"E":456.0,"nu":2.8525},{"E":456.0,"nu":2.8425},{"E":456.0,"nu":2.8325},{"E":456.0,"nu":2.8907},
{"E":460,"nu":2.8907},{"E":460,"nu":2.87},{"E":460,"nu":2.85},{"E":460,"nu":2.83},{"E":460,"nu":2.81},{"E":460,"nu":2.795},{"E":460,"nu":2.785},{"E":460,"nu":2.8},{"E":460,"nu":2.83},{"E":460,"nu":2.8907},
{"E":467.3,"nu":2.8907},{"E":467.3,"nu":2.8825},{"E":467.3,"nu":2.8725},{"E":467.3,"nu":2.8625},{"E":467.3,"nu":2.8525},{"E":467.3,"nu":2.8425},{"E":467.3,"nu":2.8907},
{"E":474.8,"nu":2.8907},{"E":474.8,"nu":2.86},{"E":474.8,"nu":2.84},{"E":474.8,"nu":2.8162},{"E":474.8,"nu":2.845},{"E":474.8,"nu":2.875},{"E":474.8,"nu":2.8907},
{"E":482.4,"nu":2.8919},{"E":482.4,"nu":2.8825},{"E":482.4,"nu":2.8725},{"E":482.4,"nu":2.8625},{"E":482.4,"nu":2.8525},{"E":482.4,"nu":2.8919},
{"E":490.1,"nu":2.8919},{"E":490.1,"nu":2.87},{"E":490.1,"nu":2.85},{"E":490.1,"nu":2.83},{"E":490.1,"nu":2.81},{"E":490.1,"nu":2.79},{"E":490.1,"nu":2.775},{"E":490.1,"nu":2.7689},{"E":490.1,"nu":2.785},{"E":490.1,"nu":2.81},{"E":490.1,"nu":2.84},{"E":490.1,"nu":2.8919},
{"E":498.0,"nu":2.8919},{"E":498.0,"nu":2.8825},{"E":498.0,"nu":2.8725},{"E":498.0,"nu":2.8625},{"E":498.0,"nu":2.8525},{"E":498.0,"nu":2.8425},{"E":498.0,"nu":2.8325},{"E":498.0,"nu":2.8919},
{"E":505.9,"nu":2.8919},{"E":505.9,"nu":2.86},{"E":505.9,"nu":2.84},{"E":505.9,"nu":2.82},{"E":505.9,"nu":2.8},{"E":505.9,"nu":2.78},{"E":505.9,"nu":2.768},{"E":505.9,"nu":2.763},{"E":505.9,"nu":2.785},{"E":505.9,"nu":2.815},{"E":505.9,"nu":2.845},{"E":505.9,"nu":2.875},{"E":505.9,"nu":2.8919},
{"E":514.0,"nu":2.8919},{"E":514.0,"nu":2.8825},{"E":514.0,"nu":2.8725},{"E":514.0,"nu":2.8625},{"E":514.0,"nu":2.8525},{"E":514.0,"nu":2.8425},{"E":514.0,"nu":2.8919},
{"E":522.2,"nu":2.8919},{"E":522.2,"nu":2.87},{"E":522.2,"nu":2.85},{"E":522.2,"nu":2.83},{"E":522.2,"nu":2.81},{"E":522.2,"nu":2.79},{"E":522.2,"nu":2.775},{"E":522.2,"nu":2.763},{"E":522.2,"nu":2.775},{"E":522.2,"nu":2.8},{"E":522.2,"nu":2.83},{"E":522.2,"nu":2.86},{"E":522.2,"nu":2.8919},
{"E":530.5,"nu":2.8919},{"E":530.5,"nu":2.8825},{"E":530.5,"nu":2.8725},{"E":530.5,"nu":2.8625},{"E":530.5,"nu":2.8525},{"E":530.5,"nu":2.8919},
{"E":539.0,"nu":2.8919},{"E":539.0,"nu":2.86},{"E":539.0,"nu":2.84},{"E":539.0,"nu":2.82},{"E":539.0,"nu":2.8},{"E":539.0,"nu":2.78},{"E":539.0,"nu":2.763},{"E":539.0,"nu":2.785},{"E":539.0,"nu":2.815},{"E":539.0,"nu":2.845},{"E":539.0,"nu":2.875},{"E":539.0,"nu":2.8919},
{"E":547.6,"nu":2.8919},{"E":547.6,"nu":2.8825},{"E":547.6,"nu":2.8725},{"E":547.6,"nu":2.8625},{"E":547.6,"nu":2.8525},{"E":547.6,"nu":2.8425},{"E":547.6,"nu":2.8325},{"E":547.6,"nu":2.8919},
{"E":556.4,"nu":2.8919},{"E":556.4,"nu":2.87},{"E":556.4,"nu":2.85},{"E":556.4,"nu":2.83},{"E":556.4,"nu":2.81},{"E":556.4,"nu":2.79},{"E":556.4,"nu":2.775},{"E":556.4,"nu":2.763},{"E":556.4,"nu":2.7547},{"E":556.4,"nu":2.74},{"E":556.4,"nu":2.7358},{"E":556.4,"nu":2.7311},{"E":556.4,"nu":2.7157},{"E":556.4,"nu":2.7},{"E":556.4,"nu":2.698},{"E":556.4,"nu":2.72},{"E":556.4,"nu":2.75},{"E":556.4,"nu":2.78},{"E":556.4,"nu":2.81},{"E":556.4,"nu":2.84},{"E":556.4,"nu":2.8919},
{"E":565.3,"nu":2.8919},{"E":565.3,"nu":2.8825},{"E":565.3,"nu":2.8725},{"E":565.3,"nu":2.8625},{"E":565.3,"nu":2.8525},{"E":565.3,"nu":2.8425},{"E":565.3,"nu":2.8919},
{"E":574.3,"nu":2.8919},{"E":574.3,"nu":2.86},{"E":574.3,"nu":2.84},{"E":574.3,"nu":2.82},{"E":574.3,"nu":2.8},{"E":574.3,"nu":2.78},{"E":574.3,"nu":2.768},{"E":574.3,"nu":2.755},{"E":574.3,"nu":2.745},{"E":574.3,"nu":2.735},{"E":574.3,"nu":2.725},{"E":574.3,"nu":2.745},{"E":574.3,"nu":2.775},{"E":574.3,"nu":2.805},{"E":574.3,"nu":2.835},{"E":574.3,"nu":2.865},{"E":574.3,"nu":2.8919},
{"E":583.5,"nu":2.8931},{"E":583.5,"nu":2.8825},{"E":583.5,"nu":2.8725},{"E":583.5,"nu":2.8625},{"E":583.5,"nu":2.8525},{"E":583.5,"nu":2.8931},
{"E":592.8,"nu":2.8931},{"E":592.8,"nu":2.87},{"E":592.8,"nu":2.85},{"E":592.8,"nu":2.83},{"E":592.8,"nu":2.81},{"E":592.8,"nu":2.79},{"E":592.8,"nu":2.775},{"E":592.8,"nu":2.763},{"E":592.8,"nu":2.775},{"E":592.8,"nu":2.8},{"E":592.8,"nu":2.83},{"E":592.8,"nu":2.86},{"E":592.8,"nu":2.8931},
{"E":602.3,"nu":2.8931},{"E":602.3,"nu":2.8825},{"E":602.3,"nu":2.8725},{"E":602.3,"nu":2.8625},{"E":602.3,"nu":2.8525},{"E":602.3,"nu":2.8425},{"E":602.3,"nu":2.8325},{"E":602.3,"nu":2.8931},
{"E":611.9,"nu":2.8931},{"E":611.9,"nu":2.86},{"E":611.9,"nu":2.84},{"E":611.9,"nu":2.82},{"E":611.9,"nu":2.8},{"E":611.9,"nu":2.78},{"E":611.9,"nu":2.765},{"E":611.9,"nu":2.7547},{"E":611.9,"nu":2.74},{"E":611.9,"nu":2.7311},{"E":611.9,"nu":2.722},{"E":611.9,"nu":2.7098},{"E":611.9,"nu":2.73},{"E":611.9,"nu":2.755},{"E":611.9,"nu":2.785},{"E":611.9,"nu":2.815},{"E":611.9,"nu":2.845},{"E":611.9,"nu":2.875},{"E":611.9,"nu":2.8931},
{"E":621.8,"nu":2.8931},{"E":621.8,"nu":2.8825},{"E":621.8,"nu":2.8725},{"E":621.8,"nu":2.8625},{"E":621.8,"nu":2.8525},{"E":621.8,"nu":2.8425},{"E":621.8,"nu":2.8931},
{"E":631.7,"nu":2.8931},{"E":631.7,"nu":2.87},{"E":631.7,"nu":2.85},{"E":631.7,"nu":2.83},{"E":631.7,"nu":2.81},{"E":631.7,"nu":2.79},{"E":631.7,"nu":2.775},{"E":631.7,"nu":2.763},{"E":631.7,"nu":2.74},{"E":631.7,"nu":2.7216},{"E":631.7,"nu":2.705},{"E":631.7,"nu":2.72},{"E":631.7,"nu":2.75},{"E":631.7,"nu":2.78},{"E":631.7,"nu":2.81},{"E":631.7,"nu":2.84},{"E":631.7,"nu":2.8931},
{"E":641.8,"nu":2.8931},{"E":641.8,"nu":2.8825},{"E":641.8,"nu":2.8725},{"E":641.8,"nu":2.8625},{"E":641.8,"nu":2.8525},{"E":641.8,"nu":2.8931},
{"E":652,"nu":2.8931},{"E":652,"nu":2.865},{"E":652,"nu":2.845},{"E":652,"nu":2.825},{"E":652,"nu":2.805},{"E":652,"nu":2.785},{"E":652,"nu":2.77},{"E":652,"nu":2.75},{"E":652,"nu":2.73},{"E":652,"nu":2.715},{"E":652,"nu":2.7003},{"E":652,"nu":2.735},{"E":652,"nu":2.775},{"E":652,"nu":2.815},{"E":652,"nu":2.855},{"E":652,"nu":2.8931},
{"E":662,"nu":2.8931},{"E":662,"nu":2.8825},{"E":662,"nu":2.8725},{"E":662,"nu":2.8625},{"E":662,"nu":2.8931},
{"E":672,"nu":2.8919},{"E":672,"nu":2.888},
{"E":1000,"nu":2.888},{"E":2000,"nu":2.888},{"E":3000,"nu":2.888},{"E":4000,"nu":2.888},{"E":5000,"nu":2.888},{"E":6000,"nu":2.888},{"E":7000,"nu":2.888},{"E":8000,"nu":2.888},{"E":9000,"nu":2.888},{"E":10000,"nu":2.888}
 ]
},
"layer": [
 {
  "data": {"name": "nu"},
  "mark": {"type": "line", "color": "#8DB0DD", "strokeWidth": 1.2, "clip": true},
  "encoding": {
   "x": {"field": "E", "type": "quantitative", "scale": {"type": "log", "domain": [0.01, 10000], "nice": false},
    "axis": {"title": "En (eV)", "values": [0.01, 0.1, 1, 10, 100, 1000, 10000], "labelExpr": "'1.E' + (datum.value < 1 ? '-0' : '+0') + abs(round(log(datum.value)/LN10))", "labelOverlap": false, "labelFlush": false, "labelFontSize": 29, "labelFontWeight": "bold", "labelPadding": 3, "titleFontSize": 26, "titleFontWeight": "bold", "titlePadding": 16, "grid": true}},
   "y": {"field": "nu", "type": "quantitative", "scale": {"domain": [2.4, 3.1], "nice": false, "zero": false},
    "axis": {"title": "Nu-bar", "values": [2.4, 2.5, 2.6, 2.7, 2.8, 2.9, 3.0, 3.1], "format": ".1f", "labelFontSize": 29, "labelFontWeight": "bold", "labelPadding": 14, "labelFlush": false, "titleFontSize": 26, "titleFontWeight": "normal", "titleX": -101, "titleY": 325, "grid": true}},
   "order": {"value": null}
  }
 },
 {
  "data": {"name": "nu"},
  "mark": {"type": "point", "shape": "diamond", "filled": true, "size": 66, "color": "#4A7EBB", "opacity": 1, "clip": true},
  "encoding": {
   "x": {"field": "E", "type": "quantitative"},
   "y": {"field": "nu", "type": "quantitative"}
  }
 },
 {
  "data": {"values": [{"E": 0.01842, "nu": 2.7701, "nu2": 2.7031}]},
  "mark": {"type": "rule", "color": "#FF2A00", "strokeWidth": 2.5},
  "encoding": {
   "x": {"field": "E", "type": "quantitative"},
   "y": {"field": "nu", "type": "quantitative"},
   "y2": {"field": "nu2"}
  }
 },
 {
  "data": {"values": [{"E": 0.01842, "nu": 2.7851}]},
  "mark": {"type": "point", "shape": "triangle-up", "filled": true, "size": 660, "color": "#FF2A00", "opacity": 1},
  "encoding": {
   "x": {"field": "E", "type": "quantitative"},
   "y": {"field": "nu", "type": "quantitative"}
  }
 },
 {
  "data": {"values": [{"E": 0.01865, "nu": 2.6058, "t": "0.025 eV"}, {"E": 0.01865, "nu": 2.5384, "t": "(thermal)"}]},
  "mark": {"type": "text", "align": "left", "baseline": "alphabetic", "fontSize": 52, "color": "#C00000", "font": "Liberation Sans"},
  "encoding": {
   "x": {"field": "E", "type": "quantitative"},
   "y": {"field": "nu", "type": "quantitative"},
   "text": {"field": "t"}
  }
 },
 {
  "data": {"values": [{"E": 0.6475, "nu": 3.0259, "t": "Pu Nu-bar ENDF/B-VII.1"}]},
  "mark": {"type": "text", "align": "left", "baseline": "alphabetic", "fontSize": 36.5, "fontWeight": "bold", "color": "#000000", "font": "Liberation Sans"},
  "encoding": {
   "x": {"field": "E", "type": "quantitative"},
   "y": {"field": "nu", "type": "quantitative"},
   "text": {"field": "t"}
  }
 },
 {
  "data": {"values": [{"E": 0.326, "nu": 3.0373, "t": "239"}]},
  "mark": {"type": "text", "align": "left", "baseline": "alphabetic", "fontSize": 25, "fontWeight": "bold", "color": "#000000", "font": "Liberation Sans"},
  "encoding": {
   "x": {"field": "E", "type": "quantitative"},
   "y": {"field": "nu", "type": "quantitative"},
   "text": {"field": "t"}
  }
 }
]
}
